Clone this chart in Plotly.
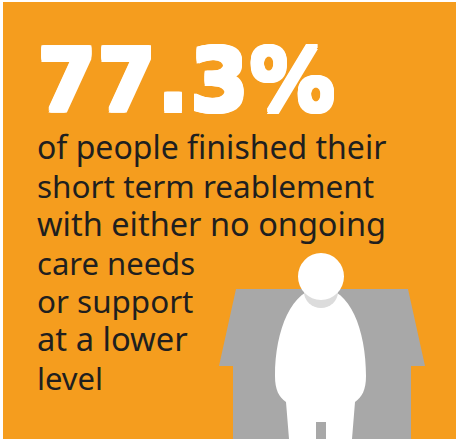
import plotly.graph_objects as go

HEADLINE = "77.3%"
BODY_LINES = [
    "of people finished their",
    "short term reablement",
    "with either no ongoing",
    "care needs",
    "or support",
    "at a lower",
    "level",
]
BODY_BASELINES = [158, 197, 236, 274, 312, 351, 389]
BODY_SIZES = [32, 31.5, 32.5, 31, 31.4, 32.7, 31]

ORANGE = "#F59D1E"
GREY = "#A8A8A8"
COLLAR = "#DCDCDC"
INK = "#1F1F1F"

W, H = 456, 439

HOUSE = "M236,289 L408,289 L425,366 L411,366 L411,439 L233,439 L233,366 L219,366 Z"
BODY = ("M321,288 C350,288 366,330 366,376 C366,390 362,397 355,402 "
        "L352,439 L326,439 L326,422 L316,422 L316,439 L289,439 L286,402 "
        "C279,397 275,390 275,376 C275,330 292,288 321,288 Z")

shapes = [
    dict(type="rect", x0=3, x1=456, y0=2, y1=439, fillcolor=ORANGE, line_width=0, layer="below"),
    dict(type="path", path=HOUSE, fillcolor=GREY, line_width=0, layer="below"),
    dict(type="path", path=BODY, fillcolor="#FFFFFF", line_width=0, layer="below"),
    dict(type="circle", x0=304, x1=338, y0=276, y1=308, fillcolor=COLLAR, line_width=0, layer="below"),
    dict(type="circle", x0=298, x1=344, y0=253, y1=300, fillcolor="#FFFFFF", line_width=0, layer="below"),
]

THICKEN = ", ".join(f"{dx}px {dy}px 0 #fff" for dx in (-1.2, 0, 1.2) for dy in (-2.5, -1.2, 0, 1.2, 2.5))

annotations = [
    dict(x=35, y=113, text=f"<b>{HEADLINE}</b>", showarrow=False, xanchor="left", yanchor="bottom",
         yshift=-19, font=dict(family="DejaVu Sans", size=86, color="#FFFFFF", shadow=THICKEN)),
]
for line, base, size in zip(BODY_LINES, BODY_BASELINES, BODY_SIZES):
    annotations.append(dict(x=35, y=base, text=line, showarrow=False, xanchor="left", yanchor="bottom",
                            yshift=-12, font=dict(family="Noto Sans", size=size, color=INK)))

fig = go.Figure()
fig.update_layout(
    width=W, height=H, margin=dict(l=0, r=0, t=0, b=0),
    paper_bgcolor="#FFFFFF", plot_bgcolor="#FFFFFF",
    xaxis=dict(range=[0, W], visible=False, fixedrange=True),
    yaxis=dict(range=[H, 0], visible=False, fixedrange=True),
    shapes=shapes, annotations=annotations, showlegend=False,
)
fig.write_html("out.html", config={"displayModeBar": False},
               post_script="document.body.style.margin='0';document.body.style.overflow='hidden';")
